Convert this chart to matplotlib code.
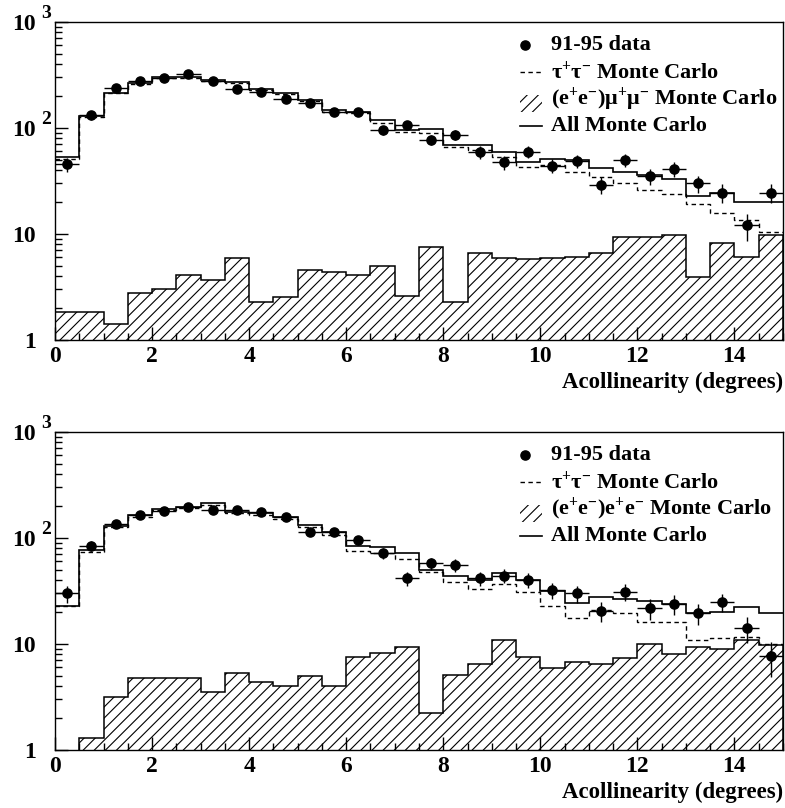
import numpy as np
import matplotlib
matplotlib.use("Agg")
import matplotlib.pyplot as plt
from matplotlib.ticker import FixedLocator, MultipleLocator, LogLocator, NullFormatter
from matplotlib.patches import Rectangle
from matplotlib.lines import Line2D

plt.rcParams['font.family'] = ['Liberation Serif', 'DejaVu Serif']
plt.rcParams['font.weight'] = 'bold'
plt.rcParams['mathtext.fontset'] = 'custom'
plt.rcParams['mathtext.rm'] = 'Liberation Serif:bold'
plt.rcParams['mathtext.bf'] = 'Liberation Serif:bold'
plt.rcParams['mathtext.it'] = 'Liberation Serif:bold'
plt.rcParams['hatch.linewidth'] = 0.8

# ---- binning (30 bins of 0.5 degree) ----
bin_lo, bin_hi, bin_w = 0.0, 15.0, 0.5
edges = np.arange(bin_lo, bin_hi + bin_w / 2, bin_w)
centers = edges[:-1] + bin_w / 2

# ---- top panel: (e+e-)mu+mu- background ----
top_data = [45.3, 131, 237, 276, 293, 324, 278, 232, 216, 187, 171, 140, 141, 95, 106,
            77, 85.5, 59, 47.3, 59.5, 44, 49, 28.9, 49.7, 35.1, 41, 30, 24.5, 12, 24.5]
top_tau = [50.5, 127, 211, 258, 295, 294, 278, 265, 227, 208, 178, 142, 137, 112, 92,
           88.7, 65.5, 61.8, 53.4, 43, 44.6, 38.6, 34.5, 30, 25.9, 23.8, 19.1, 15.8, 13.5, 10.5]
top_bkg = [1.85, 1.85, 1.42, 2.75, 3.0, 4.07, 3.65, 5.93, 2.3, 2.54, 4.57, 4.34, 4.1, 5.02, 2.6,
           7.6, 2.3, 6.56, 5.9, 5.76, 5.9, 6.1, 6.56, 9.3, 9.4, 9.7, 3.95, 8.15, 6.1, 9.7]
top_all = [53.4, 130, 214, 262, 299, 299, 282, 272, 230, 211, 183, 147, 142, 118, 95,
           96.7, 68.9, 68.9, 58.8, 48, 50.5, 49.7, 41.5, 38.6, 35.9, 32.7, 22.8, 24.5, 20.1, 20.1]

# ---- bottom panel: (e+e-)e+e- background ----
bot_data = [30, 84.3, 135, 165, 179, 197, 183, 183, 176, 158, 114, 114, 95, 72, 41.5,
            57.5, 55.4, 41.5, 44, 40, 32.2, 30, 20.5, 31, 21.6, 23.8, 19.4, 24.8, 14, 7.7]
bot_tau = [22.9, 74, 126, 158, 183, 192, 204, 170, 163, 149, 127, 106, 75.7, 71.4, 62.7,
           47.3, 38.6, 32.7, 36.7, 30.6, 22.8, 17.4, 20.9, 19.4, 16, 16.2, 10.9, 11.3, 11.7, 10]
bot_bkg = [0, 1.31, 3.14, 4.8, 4.8, 4.8, 3.5, 5.36, 4.41, 4.04, 4.98, 4.04, 7.47, 8.15, 9.3,
           2.22, 5.09, 6.47, 10.9, 7.58, 5.89, 6.7, 6.47, 7.31, 9.91, 8.03, 9.42, 8.89, 10.9, 9.7]
bot_all = [22.9, 76.7, 129, 163, 185, 197, 214, 176, 170, 156, 132, 114, 83.7, 81.3, 71.4,
           49.7, 44, 40, 46.9, 40, 31.8, 24.5, 27.5, 26.3, 25.5, 23.8, 19.7, 20.1, 22.1, 19.4]

x_label = "Acollinearity (degrees)"
legend_labels_top = ["91-95 data", r"$\mathbf{\tau^{+}\tau^{-}}$ Monte Carlo",
                     r"$\mathbf{(e^{+}e^{-})\mu^{+}\mu^{-}}$ Monte Carlo", "All Monte Carlo"]
legend_labels_bot = ["91-95 data", r"$\mathbf{\tau^{+}\tau^{-}}$ Monte Carlo",
                     r"$\mathbf{(e^{+}e^{-})e^{+}e^{-}}$ Monte Carlo", "All Monte Carlo"]

FS = 16.5
LEG_FS = 16
TICK_FS = 17
MS = 6.6
W, H = 785, 808
fig = plt.figure(figsize=(W / 100, H / 100), dpi=100)

def px_axes(left, top, right, bottom):
    return fig.add_axes([left / W, 1 - bottom / H, (right - left) / W, (bottom - top) / H])

ax_top = px_axes(55, 21.7, 783, 340)
ax_bot = px_axes(55, 431.7, 783, 750)

def draw_panel(ax, data, tau, bkg, allmc, labels):
    data = np.asarray(data, float)
    bkg = np.asarray(bkg, float)
    ax.set_yscale('log')
    # hatched background
    ax.stairs(bkg, edges, baseline=1e-3, fill=True, facecolor='white',
              edgecolor='black', hatch='///', linewidth=1.1, zorder=1)
    # tau MC dashed
    ax.stairs(tau, edges, baseline=None, color='black', linewidth=1.0,
              linestyle=(0, (3.2, 2.5)), zorder=2)
    # all MC solid
    ax.stairs(allmc, edges, baseline=None, color='black', linewidth=1.2, zorder=3)
    # data
    ax.errorbar(centers, data, yerr=np.sqrt(data), xerr=bin_w / 2, fmt='o',
                color='black', markersize=MS, elinewidth=1.0, capsize=0, zorder=4)

    ax.set_xlim(bin_lo, bin_hi)
    ax.set_ylim(1, 1000)
    for s in ax.spines.values():
        s.set_linewidth(1.0)

    ax.xaxis.set_minor_locator(MultipleLocator(0.5))
    ax.set_xticks([0, 2, 4, 6, 8, 10, 12, 14])
    ax.set_xticklabels(['0', '2', '4', '6', '8', '10', '12', '14'])
    ax.yaxis.set_major_locator(FixedLocator([1, 10, 100, 1000]))
    ax.yaxis.set_minor_locator(LogLocator(base=10, subs=np.arange(2, 10)))
    ax.yaxis.set_minor_formatter(NullFormatter())
    ax.set_yticklabels(['1', '10', '10', '10'])
    ax.tick_params(which='both', direction='in', top=False, right=False,
                   labelsize=TICK_FS, width=1.0)
    ax.tick_params(which='major', length=9.5)
    ax.tick_params(which='minor', length=5)
    ax.tick_params(axis='x', pad=4.5)
    ax.tick_params(axis='y', pad=14)
    for t in ax.get_xticklabels() + ax.get_yticklabels():
        t.set_fontweight('bold')

    # superscript exponents
    for yv, ex in [(100, '2'), (1000, '3')]:
        ax.annotate(ex, xy=(0, yv), xycoords=('axes fraction', 'data'),
                    xytext=(-14, 8), textcoords='offset pixels',
                    ha='left', va='center', fontsize=14, fontweight='bold',
                    annotation_clip=False)

    ax.text(1.0, -0.132, x_label, transform=ax.transAxes, ha='right', va='center',
            fontsize=FS, fontweight='bold')

    # legend (manual)
    rows = [0.9268, 0.842, 0.757, 0.671]
    x_mark, x_l0, x_l1, x_txt = 0.6456, 0.6387, 0.669, 0.6813
    ax.plot([x_mark], [rows[0]], 'o', color='black', markersize=MS,
            transform=ax.transAxes, clip_on=False)
    ax.add_line(Line2D([x_l0, x_l1], [rows[1], rows[1]], color='black', lw=1.0,
                       linestyle=(0, (3.2, 2.5)), transform=ax.transAxes))
    ax.add_patch(Rectangle((x_l0, 0.716), x_l1 - x_l0, 0.054, transform=ax.transAxes,
                           facecolor='white', edgecolor='black', hatch='///', lw=0))
    ax.add_line(Line2D([x_l0, x_l1], [rows[3], rows[3]], color='black', lw=1.2,
                       transform=ax.transAxes))
    for r, lab in zip(rows, labels):
        ax.text(x_txt, r, lab, transform=ax.transAxes, ha='left', va='center',
                fontsize=LEG_FS, fontweight='bold')

draw_panel(ax_top, top_data, top_tau, top_bkg, top_all, legend_labels_top)
draw_panel(ax_bot, bot_data, bot_tau, bot_bkg, bot_all, legend_labels_bot)

fig.savefig("out.png", dpi=100)
